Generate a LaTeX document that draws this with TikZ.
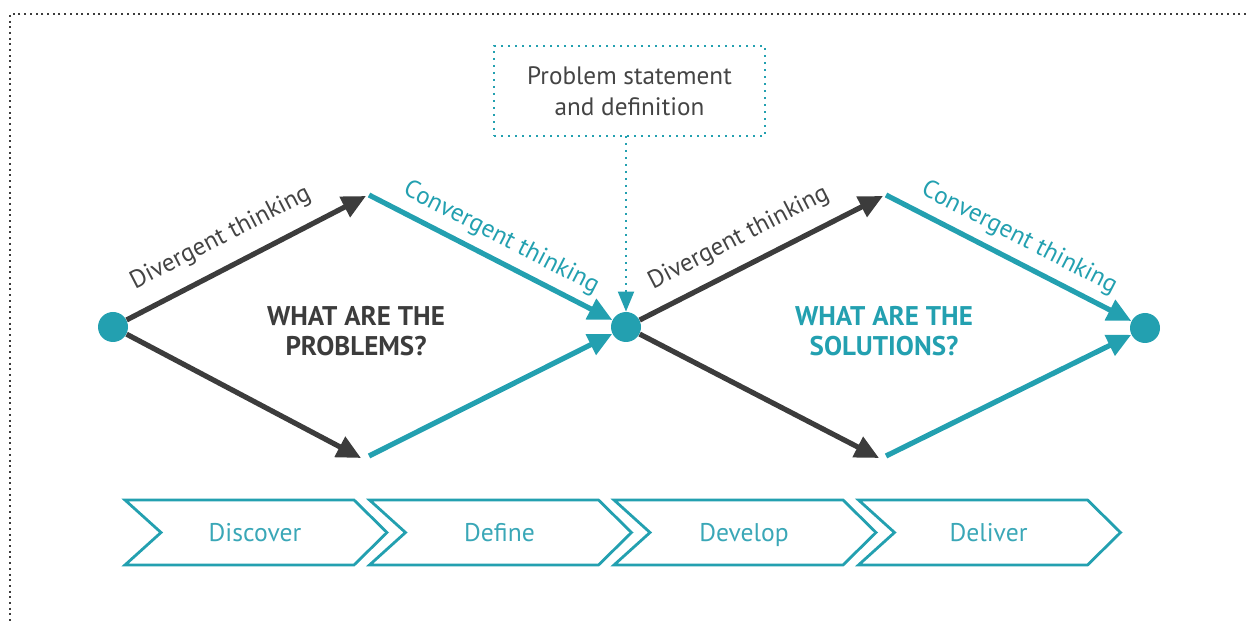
\documentclass[tikz,border=0pt]{standalone}
\usepackage{fontspec}
\setmainfont{PT Sans}
\usetikzlibrary{arrows.meta}
\definecolor{teal1}{HTML}{23A0B0}
\definecolor{dark1}{HTML}{3C3C3C}
\definecolor{txt1}{HTML}{444444}
\definecolor{tealtxt}{HTML}{3AA7B7}
\tikzset{
  dot/.style={circle,fill=teal1,minimum size=15pt,inner sep=0pt},
  darrow/.style={draw=dark1,line width=2.6pt,-{Triangle[length=12pt,width=11pt]}},
  tarrow/.style={draw=teal1,line width=2.6pt,-{Triangle[length=12pt,width=11pt]}},
  difflbl/.style={text=txt1,font=\fontsize{12.5}{15}\selectfont,anchor=south,inner sep=3pt},
  convlbl/.style={text=teal1,font=\fontsize{12.5}{15}\selectfont,anchor=south,inner sep=3pt},
  bigq/.style={font=\fontsize{13.5}{15}\selectfont\bfseries,align=center},
  chev/.style={draw=teal1,line width=1.4pt,line join=miter},
  chevtxt/.style={text=tealtxt,font=\fontsize{12.8}{15}\selectfont,anchor=base},
  frame/.style={draw=dark1,line width=1pt,dash pattern=on 1pt off 1.85pt},
  tdots/.style={draw=teal1,line width=1pt,dash pattern=on 1pt off 2.5pt},
}
\begin{document}
\begin{tikzpicture}[x=0.5pt,y=-0.5pt]
\useasboundingbox (0,0) rectangle (1246,624);
% outer dotted frame (top and left)
\draw[frame] (1246,14) -- (10,14) -- (10,624);
% circles
\node[dot] (c1) at (113,327) {};
\node[dot] (c2) at (626,327) {};
\node[dot] (c3) at (1145,328) {};
% named ends
\coordinate (t1) at (366,196);
\coordinate (b1) at (361,458);
\coordinate (t1s) at (369,195);
\coordinate (b1s) at (369,456);
\coordinate (t2) at (883,196);
\coordinate (b2) at (879,458);
\coordinate (t2s) at (886,195);
\coordinate (b2s) at (886,456);
% first diamond
\draw[darrow] (c1) -- (t1);
\draw[darrow] (c1) -- (b1);
\draw[tarrow] (t1s) -- (c2);
\draw[tarrow] (b1s) -- (c2);
% second diamond
\draw[darrow] (c2) -- (t2);
\draw[darrow] (c2) -- (b2);
\draw[tarrow] (t2s) -- (c3);
\draw[tarrow] (b2s) -- (c3);
% labels along lines
\node[difflbl,rotate=27.3] (d1) at (229,254) {Divergent thinking};
\node[convlbl,rotate=-27.3] (v1) at (493,254) {Convergent thinking};
\node[difflbl,rotate=27.3] (d2) at (747,254) {Divergent thinking};
\node[convlbl,rotate=-27.3] (v2) at (1011,254) {Convergent thinking};
% questions
\node[bigq,text=dark1] (q1) at (356,331) {WHAT ARE THE\\[0pt]PROBLEMS?};
\node[bigq,text=teal1] (q2) at (884,331) {WHAT ARE THE\\[0pt]SOLUTIONS?};
% problem statement box
\node[tdots,minimum width=135.5pt,minimum height=45pt,align=center,text=txt1,font=\fontsize{12.6}{15.5}\selectfont] (ps) at (629.5,91) {Problem statement\\and definition};
\coordinate (pse) at (626,136);
\draw[tdots,-{Triangle[length=10pt,width=8pt]}] (pse) -- (c2.north);
% chevrons
\foreach \x/\lbl/\nm in {125/Discover/ch1,369.5/Define/ch2,614/Develop/ch3,858.5/Deliver/ch4}{
  \draw[chev] (\x,500) -- (\x+229,500) -- (\x+262,532.5) -- (\x+229,565) -- (\x,565) -- (\x+36,532.5) -- cycle;
  \node[chevtxt] (\nm) at (\x+130,541) {\lbl};
}
\end{tikzpicture}
\end{document}
